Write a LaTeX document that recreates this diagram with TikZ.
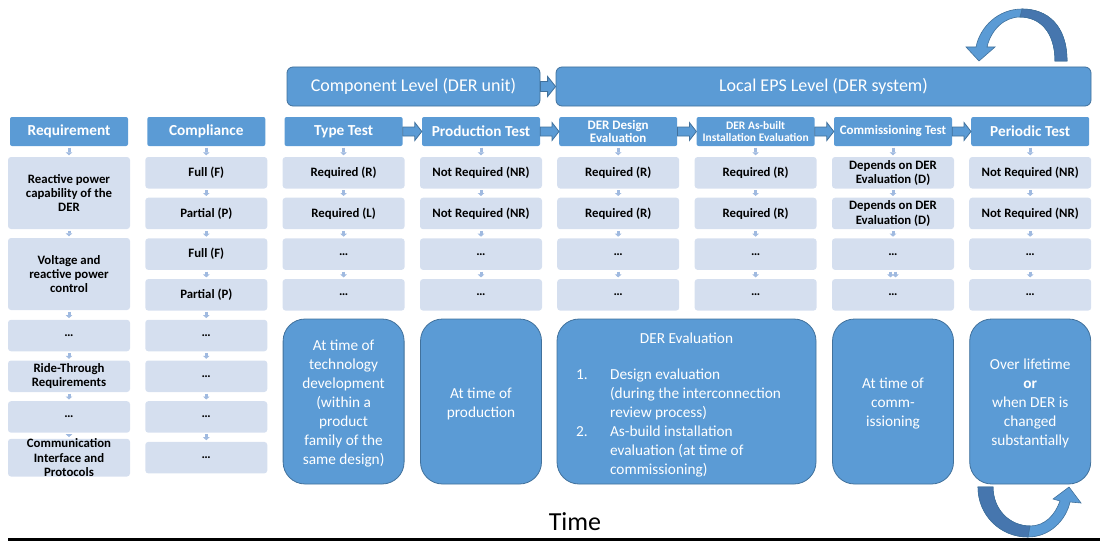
\documentclass[tikz,border=0pt]{standalone}
\usepackage{fontspec}
\setmainfont{Carlito}
\usetikzlibrary{arrows.meta,calc}

\definecolor{accent}{RGB}{91,155,213}
\definecolor{accentdark}{RGB}{65,113,156}
\definecolor{backhalf}{RGB}{70,118,174}
\definecolor{cellfill}{RGB}{213,223,239}
\definecolor{linkblue}{RGB}{160,186,224}

\tikzstyle{head}=[rectangle,rounded corners=2pt,fill=accent,text=white,font=\fontsize{15.3}{16}\selectfont\bfseries,minimum width=118pt,minimum height=29pt,inner sep=0pt,align=center]
\tikzstyle{subhead}=[head,font=\fontsize{13}{13.5}\selectfont\bfseries]
\tikzstyle{tinyhead}=[head,font=\fontsize{11.5}{12.5}\selectfont\bfseries]
\tikzstyle{cell}=[rectangle,rounded corners=3pt,fill=cellfill,font=\fontsize{12.8}{14.3}\selectfont\bfseries,minimum width=122pt,minimum height=31.5pt,inner sep=0pt,align=center]
\tikzstyle{tall cell}=[cell,minimum height=72pt]
\tikzstyle{level}=[rectangle,rounded corners=6pt,fill=accent,draw=accentdark,line width=0.8pt,text=white,font=\fontsize{18}{20}\selectfont,minimum height=39pt]
\tikzstyle{period}=[rectangle,rounded corners=22pt,fill=accent,draw=accentdark,line width=0.8pt,text=white,font=\fontsize{15.3}{19}\selectfont,minimum width=121pt,minimum height=165pt,inner sep=0pt,align=center]
\tikzstyle{link}=[draw=linkblue,line width=3pt,-{Triangle[width=6.5pt,length=3pt]},shorten <=1.5pt,shorten >=1.5pt]
\tikzstyle{block arrow}=[fill=accent,draw=accentdark,line width=0.8pt]
\tikzstyle{turn arrow}=[fill=accent,draw=accentdark,line width=0.6pt]
\tikzstyle{turn back}=[fill=backhalf]

\begin{document}
\begin{tikzpicture}[x=1pt,y=-1pt]
    \useasboundingbox (0,0) rectangle (1100,543);

    % levels
    \node[level,minimum width=253pt] (unit) at (413.5,86.5) {Component Level (DER unit)};
    \node[level,minimum width=535pt] (system) at (823.5,86.5) {Local EPS Level (DER system)};

    % column heads
    \foreach \x/\name/\txt in {69/req/Requirement, 206.3/comp/Compliance, 343.6/type/Type Test,
                               481/prod/Production Test, 1030.2/per/Periodic Test}
        \node[head] (\name) at (\x,131.5) {\txt};
    \node[subhead] (design) at (618.2,131.5) {DER Design\\Evaluation};
    \node[tinyhead] (built) at (755.6,131.5) {DER As-built\\Installation Evaluation};
    \node[subhead] (comm) at (893,131.5) {Commissioning Test};

    % requirement column
    \node[tall cell] (req1) at (69,193) {Reactive power\\capability of the\\DER};
    \node[tall cell] (req2) at (69,274) {Voltage and\\reactive power\\control};
    \foreach \i/\txt in {3/…, 4/{Ride-Through\\Requirements}, 5/…, 6/{Communication\\Interface and\\Protocols}}
        \node[cell] (req\i) at (69,{172.75+40.7*(\i+1)}) {\txt};

    % compliance column
    \foreach \i/\txt in {1/Full (F), 2/Partial (P), 3/Full (F), 4/Partial (P), 5/…, 6/…, 7/…, 8/…}
        \node[cell] (comp\i) at (206.3,{172.75+40.7*(\i-1)}) {\txt};

    % test columns
    \foreach \name/\x/\ra/\rb in {type/343.6/Required (R)/Required (L),
                                  prod/481/Not Required (NR)/Not Required (NR),
                                  design/618.2/Required (R)/Required (R),
                                  built/755.6/Required (R)/Required (R),
                                  comm/893/{Depends on DER\\Evaluation (D)}/{Depends on DER\\Evaluation (D)},
                                  per/1030.2/Not Required (NR)/Not Required (NR)}
    {
        \node[cell] (\name1) at (\x,172.75) {\ra};
        \node[cell] (\name2) at (\x,213.45) {\rb};
        \node[cell] (\name3) at (\x,254.15) {…};
        \node[cell] (\name4) at (\x,294.85) {…};
    }

    % little links
    \draw[link] (req) -- (req1);
    \foreach \i/\j in {1/2,2/3,3/4,4/5,5/6}
        \draw[link] (req\i) -- (req\j);
    \draw[link] (comp) -- (comp1);
    \foreach \i/\j in {1/2,2/3,3/4,4/5,5/6,6/7,7/8}
        \draw[link] (comp\i) -- (comp\j);
    \foreach \name in {type,prod,design,built,comm,per}
    {
        \draw[link] (\name) -- (\name1);
        \draw[link] (\name1) -- (\name2);
        \draw[link] (\name2) -- (\name3);
    }
    \foreach \name in {type,prod,design,built,per}
        \draw[link] (\name3) -- (\name4);
    \draw[link] ([xshift=-2.5pt]comm3.south) -- ([xshift=-2.5pt]comm4.north);
    \draw[link] ([xshift=2.5pt]comm3.south) -- ([xshift=2.5pt]comm4.north);

    % block arrows
    \path[block arrow] ($(unit.east)+(0,-5)$) -- ($(system.west)+(-8,-5)$) -- ($(system.west)+(-8,-10)$) -- (system.west)
        -- ($(system.west)+(-8,10)$) -- ($(system.west)+(-8,5)$) -- ($(unit.east)+(0,5)$) -- cycle;
    \foreach \a/\b in {type/prod, prod/design, design/built, built/comm, comm/per}
        \path[block arrow] ($(\a.east)+(0,-4.5)$) -- ($(\b.west)+(-7,-4.5)$) -- ($(\b.west)+(-7,-9)$) -- (\b.west)
            -- ($(\b.west)+(-7,9)$) -- ($(\b.west)+(-7,4.5)$) -- ($(\a.east)+(0,4.5)$) -- cycle;

    % when
    \node[period] (typetime) at (343.6,401.5) {\rule{0pt}{15pt}At time of\\technology\\development\\(within a\\product\\family of the\\same design)};
    \node[period] (prodtime) at (481,401.5) {\rule{0pt}{15pt}At time of\\production};
    \node[period,minimum width=259pt] (evaltime) at (686.5,401.5) {\rule{0pt}{21pt}DER Evaluation\\[21.8pt]
        \begin{tabular}{@{}p{34pt}@{}l@{\hspace{16pt}}}
        1. & Design evaluation\\
           & (during the interconnection\\
           & review process)\\
        2. & As-build installation\\
           & evaluation (at time of\\
           & commissioning)
        \end{tabular}};
    \node[period] (commtime) at (893,401.5) {\rule{0pt}{15pt}At time of\\comm-\\issioning};
    \node[period] (pertime) at (1030.2,401.5) {\rule{0pt}{15pt}Over lifetime\\\textbf{or}\\when DER is\\changed\\substantially};

    % repeat arrows
    \path[turn arrow] (1067,61) .. controls (1067,25) and (1047,9) .. (1022,9) .. controls (998,9) and (980,27) .. (976,47)
        -- (966,47) -- (979,61) -- (995,47) -- (987,47) .. controls (991,30) and (1004,17) .. (1020,17)
        .. controls (1040,17) and (1055,32) .. (1055,61) -- cycle;
    \path[turn arrow,turn back] (1067,61) .. controls (1067,25) and (1047,9) .. (1022,9) -- (1020,17)
        .. controls (1040,17) and (1055,32) .. (1055,61) -- cycle;
    \path[turn arrow] (978,487) .. controls (978,515) and (1000,537) .. (1028,537) .. controls (1050,537) and (1066,520) .. (1070,502)
        -- (1081,503) -- (1069,487) -- (1053,499) -- (1060,501) .. controls (1055,515) and (1045,526) .. (1030,526)
        .. controls (1010,526) and (993,510) .. (993,487) -- cycle;
    \path[turn arrow,turn back] (978,487) .. controls (978,515) and (1000,537) .. (1028,537) -- (1030,526)
        .. controls (1010,526) and (993,510) .. (993,487) -- cycle;

    % time axis
    \node[font=\fontsize{26}{28}\selectfont] (time) at (575,522) {Time};
    \coordinate (t0) at (8,539);
    \coordinate (t1) at (1100,539);
    \draw[line width=3pt] (t0) -- (t1);
\end{tikzpicture}
\end{document}
